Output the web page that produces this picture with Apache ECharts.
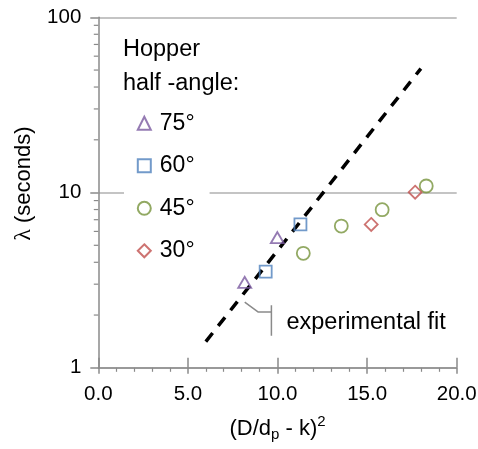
<!DOCTYPE html>
<html>
<head>
<meta charset="utf-8">
<script src="https://cdn.jsdelivr.net/npm/echarts@6/dist/echarts.min.js"></script>
<style>
html,body{margin:0;padding:0;background:#fff;}
#c{width:478px;height:449px;}
</style>
</head>
<body>
<div id="c"></div>
<script>
// ---- data ----
const seriesNames = ['75°', '60°', '45°', '30°'];
const tri75 = [[8.17, 3.07], [9.99, 5.53]];
const sq60 = [[9.34, 3.54], [11.28, 6.58]];
const circ45 = [[11.44, 4.50], [13.56, 6.44], [15.84, 7.98], [18.30, 10.9]];
const dia30 = [[15.23, 6.58], [17.68, 10.05]];
const fitLine = [[6.0, 1.41], [18.0, 51]];
const xTicks = [0, 5, 10, 15, 20];
const yTicks = [1, 10, 100];
const yMinorTicks = [2, 3, 4, 5, 6, 7, 8, 9, 20, 30, 40, 50, 60, 70, 80, 90];
const leaderLine = [[8.17, 2.37], [8.91, 2.085], [9.66, 2.085]];
const bracketLine = [[9.66, 2.276], [9.66, 1.522]];
const fitLabel = { text: 'experimental fit', at: [10.5, 1.775] };

const FONT = '"Liberation Sans", Arial, Helvetica, sans-serif';
const AXIS = '#8a8a8a';
const GRID = '#c4c4c4';

const chart = echarts.init(document.getElementById('c'), null, { renderer: 'canvas' });

function scatter(name, data, symbol, size, color) {
  return {
    name: name, type: 'scatter', data: data, symbol: symbol, symbolSize: size,
    itemStyle: { color: 'rgba(255,255,255,0)', borderColor: color, borderWidth: 1.8 },
    z: 5
  };
}

const option = {
  animation: false,
  backgroundColor: '#fff',
  textStyle: { fontFamily: FONT },
  grid: { left: 98.3, right: 21.3, top: 17.3, bottom: 81.2, containLabel: false, outerBoundsMode: 'none' },
  title: {
    text: 'Hopper\nhalf -angle:',
    left: 118, top: 27.3,
    textStyle: { fontFamily: FONT, fontSize: 23.5, fontWeight: 'normal', color: '#000', lineHeight: 34 }
  },
  legend: {
    orient: 'vertical',
    left: 124, top: 107.8,
    padding: [4, 15, 4, 12.8],
    backgroundColor: '#fff',
    itemWidth: 13, itemHeight: 13,
    itemGap: 19.5,
    selectedMode: false,
    data: seriesNames,
    textStyle: { fontFamily: FONT, fontSize: 23, color: '#000', padding: [0, 0, 0, 4] }
  },
  xAxis: [{
    type: 'value', min: xTicks[0], max: xTicks[xTicks.length - 1], interval: 5,
    name: '(D/d{sub|p} - k){sup|2}',
    nameLocation: 'middle', nameGap: 47,
    nameTextStyle: {
      fontFamily: FONT, fontSize: 22, color: '#000', lineHeight: 28,
      rich: {
        sub: { fontFamily: FONT, fontSize: 15, verticalAlign: 'bottom', lineHeight: 15, color: '#000' },
        sup: { fontFamily: FONT, fontSize: 15, verticalAlign: 'top', lineHeight: 15, color: '#000' }
      }
    },
    axisLine: { show: true, lineStyle: { color: AXIS, width: 1.5 } },
    axisTick: { show: true, length: 6, lineStyle: { color: AXIS, width: 1.5 } },
    minorTick: { show: true, splitNumber: 5, length: 4, lineStyle: { color: AXIS, width: 1.2 } },
    splitLine: { show: false },
    axisLabel: { fontFamily: FONT, fontSize: 20.5, color: '#000', margin: 16, formatter: v => v.toFixed(1) }
  }, {
    type: 'value', gridIndex: 0, position: 'bottom', min: 0, max: 20, interval: 5,
    axisLine: { show: false },
    axisTick: { show: true, inside: true, length: 10, lineStyle: { color: AXIS, width: 1.5 } },
    axisLabel: { show: false }, splitLine: { show: false }
  }],
  yAxis: {
    type: 'log', logBase: 10, min: yTicks[0], max: yTicks[yTicks.length - 1],
    name: '{l|λ} (seconds)',
    nameLocation: 'middle', nameGap: 55,
    nameTextStyle: {
      fontFamily: FONT, fontSize: 22, color: '#000', padding: [0, 0, 0, 18],
      rich: { l: { fontFamily: '"Liberation Serif", "DejaVu Serif", serif', fontSize: 24, color: '#000' } }
    },
    axisLine: { show: true, lineStyle: { color: AXIS, width: 1.5 } },
    axisTick: { show: true, length: 8, lineStyle: { color: AXIS, width: 1.5 } },
    minorTick: { show: false },
    splitLine: { show: true, lineStyle: { color: GRID, width: 2 } },
    axisLabel: { fontFamily: FONT, fontSize: 20.5, color: '#000', margin: 17 }
  },
  series: [
    scatter(seriesNames[0], tri75, 'triangle', [13, 11], '#7a5aa0'),
    scatter(seriesNames[1], sq60, 'rect', 12, '#4F81BD'),
    scatter(seriesNames[2], circ45, 'circle', 13, '#77933C'),
    scatter(seriesNames[3], dia30, 'diamond', [13, 13], '#C0504D'),
    {
      name: 'fit', type: 'line', data: fitLine, showSymbol: false, symbol: 'none',
      lineStyle: { color: '#000', width: 3.5, type: [11, 9], cap: 'butt' }, z: 3, silent: true
    },
    {
      name: 'leader', type: 'line', data: leaderLine, showSymbol: false, symbol: 'none',
      lineStyle: { color: '#8a8a8a', width: 1.5 }, z: 3, silent: true
    },
    {
      name: 'bracket', type: 'line', data: bracketLine, showSymbol: false, symbol: 'none',
      lineStyle: { color: '#8a8a8a', width: 1.5 }, z: 3, silent: true
    },
    {
      name: 'yminor', type: 'custom', clip: false, silent: true,
      data: yMinorTicks.map(v => [0, v]),
      renderItem: function (params, api) {
        const p = api.coord([0, api.value(1)]);
        return {
          type: 'line',
          shape: { x1: p[0] - 4.5, y1: p[1], x2: p[0], y2: p[1] },
          style: { stroke: AXIS, lineWidth: 1.2 }
        };
      }
    }
  ]
};

chart.setOption(option);

const lp = chart.convertToPixel({ gridIndex: 0 }, fitLabel.at);
chart.setOption({
  graphic: [{
    type: 'text', left: lp[0], top: lp[1] - 13.5,
    style: { text: fitLabel.text, font: '23.5px ' + FONT, fill: '#000' }
  }]
});
</script>
</body>
</html>
